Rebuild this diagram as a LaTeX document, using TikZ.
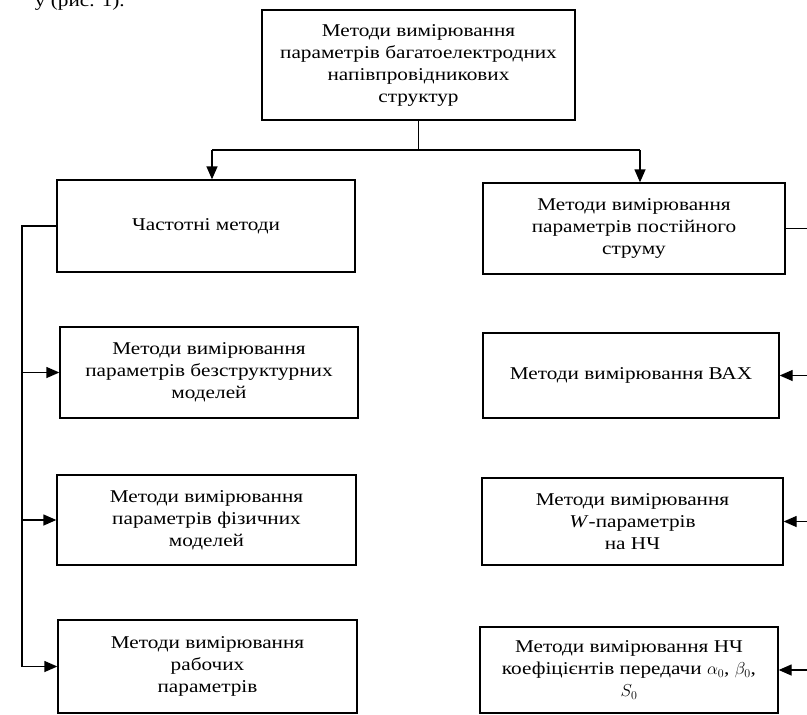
\documentclass[tikz,border=0pt]{standalone}
\usepackage{fontspec}
\setmainfont{Liberation Serif}[FakeStretch=1.18]
\usetikzlibrary{arrows.meta}
\tikzset{
  box/.style={draw, line width=1.3pt, align=center, inner sep=0pt,
    font=\fontsize{18}{22}\selectfont},
  conn/.style={line width=1.3pt},
  arr/.style={conn, -{Triangle[length=13pt,width=11pt]}},
}
\begin{document}
\begin{tikzpicture}[x=1pt,y=-1pt]
\useasboundingbox (0,0) rectangle (807,715);
\clip (0,0) rectangle (807,715);
\node[anchor=base east, font=\fontsize{18}{22}\selectfont, inner sep=0pt] (ref) at (125,6) {у (рис. 1).};
\node[box, minimum width=313pt, minimum height=110pt] (top) at (418.5,65)
  {Методи вимірювання\\параметрів багатоелектродних\\напівпровідникових\\структур};
\node[box, minimum width=298pt, minimum height=92pt] (f1) at (206,226) {Частотні методи};
\node[box, minimum width=302pt, minimum height=91pt] (d1) at (634,228.5)
  {Методи вимірювання\\параметрів постійного\\струму};
\node[box, minimum width=298pt, minimum height=91pt] (f2) at (209,372.5)
  {Методи вимірювання\\параметрів безструктурних\\моделей};
\node[box, minimum width=296pt, minimum height=85pt] (d2) at (631,375.5)
  {Методи вимірювання ВАХ};
\node[box, minimum width=299pt, minimum height=90pt] (f3) at (206.5,520)
  {Методи вимірювання\\параметрів фізичних\\моделей};
\node[box, minimum width=301pt, minimum height=87pt] (d3) at (632.5,521.5)
  {Методи вимірювання\\\textit{W}-параметрів\\на НЧ};
\node[box, minimum width=299pt, minimum height=93pt] (f4) at (207.5,666.5)
  {Методи вимірювання\\рабочих\\параметрів};
\node[box, minimum width=298pt, minimum height=86pt] (d4) at (629,670)
  {Методи вимірювання НЧ\\коефіцієнтів передачи $\alpha_0$, $\beta_0$,\\$S_0$};
% top fan-out
\coordinate (j) at (418.5,150);
\coordinate (jl) at (212,150);
\coordinate (jr) at (640,150);
\draw[conn] (top.south) -- (j);
\draw[conn] (jl) -- (jr);
\draw[arr] (jl) -- (jl |- f1.north);
\draw[arr] (jr) -- (jr |- d1.north);
% left bus
\coordinate (lb) at (22,226);
\draw[conn] (f1.west) -- (lb) -- (lb |- f4.west);
\draw[arr] (lb |- f2.west) -- (f2.west);
\draw[arr] (lb |- f3.west) -- (f3.west);
\draw[arr] (lb |- f4.west) -- (f4.west);
% right bus (runs off the page)
\coordinate (rb) at (830,228.5);
\draw[conn] (d1.east) -- (rb) -- (rb |- d4.east);
\draw[arr] (rb |- d2.east) -- (d2.east);
\draw[arr] (rb |- d3.east) -- (d3.east);
\draw[arr] (rb |- d4.east) -- (d4.east);
\end{tikzpicture}
\end{document}
